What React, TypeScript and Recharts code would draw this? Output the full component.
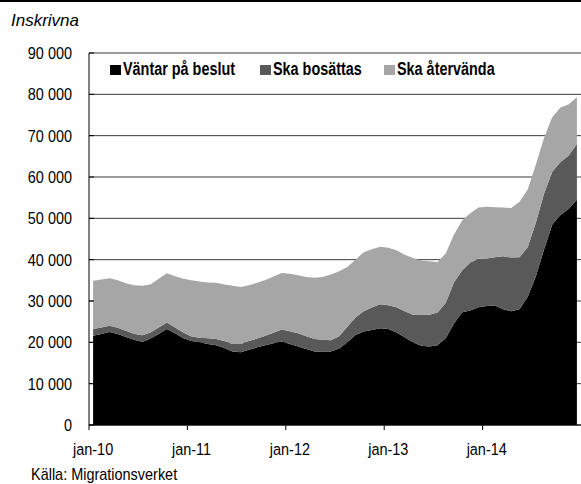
import React from "react";
import { AreaChart, Area, XAxis, YAxis, CartesianGrid } from "recharts";

// månader jan-10 .. dec-14, ett värde per månad
const vantar = [
  21600, 22000, 22500, 22000, 21300, 20600, 20100, 20900, 22000, 23200, 22200, 21000,
  20300, 20000, 19600, 19300, 18600, 17800, 17600, 18200, 18800, 19300, 19800, 20200,
  19600, 19000, 18400, 17800, 17800, 17800, 18500, 20000, 21800, 22600, 23000, 23400,
  23200, 22400, 21200, 20000, 19200, 19000, 19300, 21000, 24500, 27300, 27700, 28500,
  28800, 28900, 28000, 27500, 28000, 31000, 36000, 42500, 48500, 50800, 52300, 54500,
];
const bosattas = [
  1600, 1600, 1500, 1500, 1500, 1500, 1600, 1500, 1600, 1600, 1400, 1400,
  1100, 1100, 1400, 1500, 1700, 1800, 2000, 2100, 2100, 2300, 2500, 2900,
  3100, 3200, 3100, 3000, 2800, 2700, 3000, 3800, 4200, 4900, 5400, 5800,
  5800, 6100, 6300, 6700, 7400, 7700, 7900, 8500, 10000, 10100, 11600, 11700,
  11500, 11700, 12800, 13000, 12600, 12000, 13000, 13500, 12800, 12800, 12900, 13500,
];
const atervanda = [
  11700, 11600, 11500, 11500, 11500, 11700, 12000, 11600, 11800, 11900, 12400, 13000,
  13600, 13600, 13500, 13600, 13700, 14100, 13800, 13500, 13500, 13500, 13600, 13700,
  13900, 14000, 14300, 14800, 15200, 15900, 15700, 14400, 14000, 14300, 14100, 13900,
  13900, 13800, 13700, 13700, 13200, 12900, 12200, 12000, 11500, 12100, 11900, 12400,
  12500, 12100, 11800, 12000, 13400, 14000, 14000, 13500, 13200, 13200, 12400, 11300,
];

const tickLabels = ["jan-10", "jan-11", "jan-12", "jan-13", "jan-14"];
const tickIndex = [0, 12, 24, 36, 48];
const yTicks = [0, 10000, 20000, 30000, 40000, 50000, 60000, 70000, 80000, 90000];

const seriesNames = ["Väntar på beslut", "Ska bosättas", "Ska återvända"];
const seriesKeys = ["vantar", "bosattas", "atervanda"];
const seriesColors = ["#000000", "#595959", "#a6a6a6"];

const data = vantar.map((v, i) => ({
  i,
  vantar: v,
  bosattas: bosattas[i],
  atervanda: atervanda[i],
}));

const W = 581;
const H = 484;
const LEFT = 89;
const HALF = (W - LEFT) / vantar.length / 2;
const SANS = '"Liberation Sans", Arial, sans-serif';
const NARROW = 0.85;

const fmt = (v: number) => (v === 0 ? "0" : `${v / 1000} 000`);

const YTick = (props: any) => {
  const { x, y, payload } = props;
  return (
    <g>
      <text
        transform={`translate(${x},${y + 6}) scale(${NARROW},1)`}
        textAnchor="end"
        fontFamily={SANS}
        fontSize={17}
        fill="#000"
      >
        {fmt(payload.value)}
      </text>
      <line x1={x + 17} x2={x + 22} y1={y} y2={y} stroke="#000" />
    </g>
  );
};

const XTick = (props: any) => {
  const { x, y, payload } = props;
  const idx = tickIndex.indexOf(payload.value);
  return (
    <g>
      <line x1={x - HALF} x2={x - HALF} y1={y} y2={y + 5} stroke="#000" />
      <text
        transform={`translate(${x},${y + 30}) scale(${NARROW},1)`}
        textAnchor="middle"
        fontFamily={SANS}
        fontSize={17}
        fill="#000"
      >
        {tickLabels[idx]}
      </text>
    </g>
  );
};

// legend placement (left edge of each swatch)
const legendLeft = [110, 260, 384];

export default function App() {
  return (
    <div
      style={{
        position: "fixed",
        left: 0,
        top: 0,
        width: W,
        height: H,
        background: "#fff",
        overflow: "hidden",
      }}
    >
      <div style={{ position: "absolute", left: 0, top: 0, width: W, height: 2, background: "#000" }} />
      <div
        style={{
          position: "absolute",
          left: 11,
          top: 11,
          fontFamily: SANS,
          fontStyle: "italic",
          fontSize: 17,
          lineHeight: "20px",
        }}
      >
        Inskrivna
      </div>
      <AreaChart width={W} height={H} data={data} margin={{ top: 53, right: 0, left: 0, bottom: 0 }}>
        <CartesianGrid vertical={false} stroke="#3a3a3a" />
        <XAxis
          dataKey="i"
          type="number"
          domain={[-0.5, 59.5]}
          ticks={tickIndex}
          height={59}
          tickSize={0}
          tickMargin={0}
          tick={<XTick />}
          axisLine={{ stroke: "#000" }}
          tickLine={false}
        />
        <YAxis
          width={LEFT}
          domain={[0, 90000]}
          ticks={yTicks}
          tickSize={0}
          tickMargin={17}
          tick={<YTick />}
          axisLine={{ stroke: "#000" }}
          tickLine={false}
        />
        {seriesKeys.map((k, n) => (
          <Area
            key={k}
            dataKey={k}
            name={seriesNames[n]}
            stackId="a"
            type="linear"
            fill={seriesColors[n]}
            fillOpacity={1}
            stroke="none"
            isAnimationActive={false}
          />
        ))}
      </AreaChart>
      {seriesNames.map((s, n) => (
        <React.Fragment key={s}>
          <div
            style={{
              position: "absolute",
              left: legendLeft[n],
              top: 65,
              width: 11,
              height: 10,
              background: seriesColors[n],
            }}
          />
          <div
            style={{
              position: "absolute",
              left: legendLeft[n] + 13,
              top: 59,
              fontFamily: SANS,
              fontWeight: "bold",
              fontSize: 18,
              lineHeight: "20px",
              whiteSpace: "nowrap",
              transform: "scaleX(0.8)",
              transformOrigin: "left center",
            }}
          >
            {s}
          </div>
        </React.Fragment>
      ))}
      <div
        style={{
          position: "absolute",
          left: 31,
          top: 465,
          fontFamily: SANS,
          fontSize: 17,
          lineHeight: "20px",
          whiteSpace: "nowrap",
          transform: `scaleX(${NARROW})`,
          transformOrigin: "left center",
        }}
      >
        Källa: Migrationsverket
      </div>
    </div>
  );
}
